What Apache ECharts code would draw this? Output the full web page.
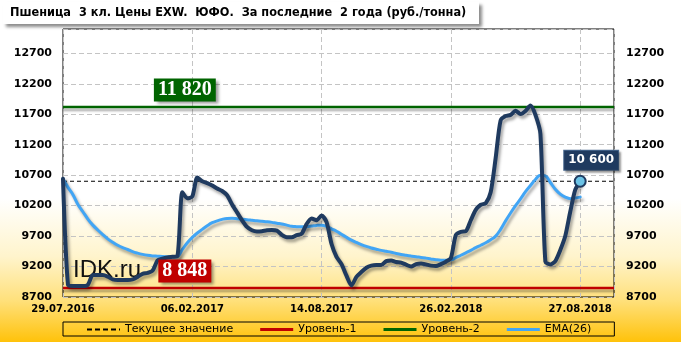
<!DOCTYPE html>
<html><head><meta charset="utf-8">
<script src="https://cdn.jsdelivr.net/npm/echarts@6/dist/echarts.min.js"></script>
<style>html,body{margin:0;padding:0;background:#fff}#c{width:681px;height:342px}</style>
</head><body><div id="c"></div>
<script>
// X tick labels (one every 26 weekly points)
const tickLabels = ["29.07.2016", "06.02.2017", "14.08.2017", "26.02.2018", "27.08.2018"];
const pointsPerTick = 26;
const xAxisMax = 110.8;
// Weekly price, rub/t
const price = [
 10640, 8900, 8880, 8880, 8880, 8900, 9060, 9060, 9060, 9035,
 8990, 8980, 8980, 8980, 8990, 9030, 9080, 9095, 9130, 9300,
 9330, 9350, 9360, 9370, 10420, 10320, 10350, 10660, 10600, 10570,
 10530, 10480, 10440, 10370, 10220, 10090, 9960, 9850, 9795, 9775,
 9780, 9795, 9798, 9790, 9720, 9680, 9680, 9716, 9740, 9900,
 9990, 9960, 10040, 9930, 9570, 9360, 9240, 9050, 8890, 9030,
 9110, 9180, 9215, 9225, 9225, 9290, 9300, 9275, 9265, 9230,
 9200, 9240, 9252, 9235, 9215, 9208, 9240, 9280, 9340, 9720,
 9771, 9780, 9960, 10130, 10215, 10240, 10420, 10980, 11600, 11670,
 11690, 11756, 11705, 11755, 11845, 11690, 11380, 9280, 9235, 9290,
 9470, 9700, 10100, 10460, 10600
];
// EMA(26)
const ema = [
 10640, 10500, 10380, 10220, 10100, 9980, 9880, 9800, 9725, 9655,
 9600, 9550, 9510, 9480, 9445, 9420, 9400, 9385, 9375, 9370,
 9365, 9362, 9360, 9365, 9480, 9590, 9680, 9750, 9810, 9870,
 9920, 9950, 9975, 9990, 9992, 9985, 9978, 9970, 9960, 9950,
 9942, 9935, 9925, 9910, 9900, 9880, 9860, 9855, 9852, 9855,
 9865, 9875, 9880, 9860, 9820, 9780, 9730, 9680, 9634, 9595,
 9560, 9530, 9505, 9485, 9465, 9450, 9435, 9415, 9398, 9385,
 9372, 9360, 9350, 9338, 9325, 9312, 9305, 9305, 9310, 9345,
 9385, 9425, 9465, 9510, 9550, 9590, 9640, 9700, 9810, 9950,
 10080, 10200, 10310, 10430, 10530, 10630, 10700, 10690, 10580, 10470,
 10390, 10340, 10315, 10325, 10340
];
const currentValue = 10600;
const level1 = 8848;
const level2 = 11820;
const levelLabelX = 24.5;
const seriesNames = ["Текущее значение", "Уровень-1", "Уровень-2", "EMA(26)"];
const titleText = "Пшеница  3 кл. Цены EXW.  ЮФО.  За последние  2 года (руб./тонна)";

const fmt = v => String(v).replace(/\B(?=(\d{3})+(?!\d))/g, ' ');
const shadow = {shadowColor: 'rgba(0,0,0,0.35)', shadowBlur: 3, shadowOffsetX: 2, shadowOffsetY: 3};
const lvlLine = (v) => [[0, v], [xAxisMax, v]];
const lvlLabel = (v, bg) => ({
  symbol: 'circle', symbolSize: 1, itemStyle: {color: 'rgba(0,0,0,0)'},
  data: [{coord: [levelLabelX, v], value: v}],
  label: {show: true, position: 'inside', offset: [0, -17], formatter: p => fmt(p.value),
    color: '#fff', fontFamily: 'Liberation Serif', fontWeight: 'bold', fontSize: 20,
    backgroundColor: bg, padding: [2, 4, 0, 4], lineHeight: 21,
    shadowColor: 'rgba(0,0,0,0.4)', shadowBlur: 3, shadowOffsetX: 3, shadowOffsetY: 3}
});
const dashIcon = 'path://M0,0h5v2h-5z M8,0h5v2h-5z M16,0h5v2h-5z M24,0h5v2h-5z M32,0h1v2h-1z';

const chart = echarts.init(document.getElementById('c'), null, {renderer: 'canvas'});
const yLab = {fontFamily: 'DejaVu Sans', fontWeight: 'bold', fontSize: 11, color: '#000',
  formatter: v => ((v - 8700) % 500 === 0 ? String(v) : '')};
chart.setOption({
  animation: false,
  backgroundColor: {type: 'linear', x: 0, y: 0, x2: 0, y2: 1, colorStops: [
    {offset: 0, color: '#ffffff'}, {offset: 0.58, color: '#ffffff'},
    {offset: 0.75, color: '#fff4cc'}, {offset: 0.88, color: '#ffe07a'}, {offset: 1, color: '#ffc20a'}]},
  grid: {left: 63, right: 67, top: 29, bottom: 45, show: true, borderColor: '#000', borderWidth: 1, backgroundColor: 'transparent'},
  graphic: [
    {type: 'rect', left: 3, top: 2, shape: {width: 476, height: 22},
      style: {fill: '#fff', shadowColor: 'rgba(0,0,0,0.45)', shadowBlur: 3, shadowOffsetX: 3, shadowOffsetY: 3}, z: 10},
    {type: 'text', left: 10, top: 6, z: 11,
      style: {text: titleText, font: 'bold 12.6px "DejaVu Sans Condensed", "Liberation Sans", sans-serif', fill: '#000'}},
    {type: 'text', left: 73, top: 258, z: 1,
      style: {text: 'IDK.ru', font: '24px "Liberation Sans"', fill: '#111'}}
  ],
  legend: {
    left: 63, top: 322, itemGap: 27, itemWidth: 33, itemHeight: 3,
    data: [
      {name: seriesNames[0], icon: dashIcon},
      {name: seriesNames[1], icon: 'rect'},
      {name: seriesNames[2], icon: 'rect'},
      {name: seriesNames[3], icon: 'rect'}
    ],
    padding: [2, 23, 1, 24], borderColor: '#000', borderWidth: 1,
    textStyle: {fontFamily: 'DejaVu Sans', fontSize: 11, color: '#000'}
  },
  xAxis: {type: 'value', min: 0, max: xAxisMax, interval: pointsPerTick,
    axisLine: {show: false}, axisTick: {show: false},
    axisLabel: {margin: 7, fontFamily: 'DejaVu Sans', fontWeight: 'bold', fontSize: 10, color: '#000',
      formatter: v => (v % pointsPerTick === 0 ? (tickLabels[v / pointsPerTick] || '') : '')},
    splitLine: {show: true, lineStyle: {color: '#c4c4c4', type: [5, 3]}}},
  yAxis: [
    {type: 'value', min: 8700, max: 13100, interval: 500, axisLine: {show: false}, axisTick: {show: false},
      axisLabel: Object.assign({margin: 11}, yLab),
      splitLine: {show: true, lineStyle: {color: '#c4c4c4', type: [5, 3]}}},
    {type: 'value', min: 8700, max: 13100, interval: 500, position: 'right', axisLine: {show: false}, axisTick: {show: false},
      axisLabel: Object.assign({margin: 12}, yLab), splitLine: {show: false}}
  ],
  series: [
    {name: 'EMA(26)', type: 'line', data: ema.map((v, i) => [i, v]), smooth: 0.4, symbol: 'none', z: 3,
      lineStyle: Object.assign({color: '#41a5f5', width: 3, cap: 'round'}, shadow), itemStyle: {color: '#41a5f5'}},
    {name: 'price', type: 'line', data: price.map((v, i) => [i, v]), smooth: 0.25, symbol: 'none', z: 4,
      lineStyle: Object.assign({color: '#1f3a5f', width: 4, cap: 'round', join: 'round'}, shadow),
      markPoint: {symbol: 'circle', symbolSize: 11,
        itemStyle: {color: '#6cc3e6', borderColor: '#1f3a5f', borderWidth: 2},
        data: [{coord: [price.length - 1, currentValue], value: currentValue}],
        label: {show: true, position: 'inside', offset: [11, -21], formatter: p => fmt(p.value),
          color: '#fff', fontFamily: 'DejaVu Sans', fontWeight: 'bold', fontSize: 12,
          backgroundColor: '#1f3a5f', padding: [3, 4, 2, 4], lineHeight: 14, borderColor: '#4a6a90', borderWidth: 1,
          shadowColor: 'rgba(0,0,0,0.3)', shadowBlur: 2, shadowOffsetX: 2, shadowOffsetY: 2}}},
    {name: 'Текущее значение', type: 'line', data: lvlLine(currentValue), symbol: 'none', z: 2,
      lineStyle: {color: '#000', width: 1.2, type: [4, 3]}, itemStyle: {color: '#000'}},
    {name: 'Уровень-1', type: 'line', data: lvlLine(level1), symbol: 'none', z: 2,
      lineStyle: Object.assign({color: '#c00000', width: 2.5}, {shadowColor: 'rgba(0,0,0,0.3)', shadowBlur: 2, shadowOffsetY: 3}),
      itemStyle: {color: '#c00000'}, markPoint: lvlLabel(level1, '#c00000')},
    {name: 'Уровень-2', type: 'line', data: lvlLine(level2), symbol: 'none', z: 2,
      lineStyle: Object.assign({color: '#006400', width: 2.5}, {shadowColor: 'rgba(0,0,0,0.3)', shadowBlur: 2, shadowOffsetY: 3}),
      itemStyle: {color: '#006400'}, markPoint: lvlLabel(level2, '#006400')}
  ]
});
</script></body></html>
